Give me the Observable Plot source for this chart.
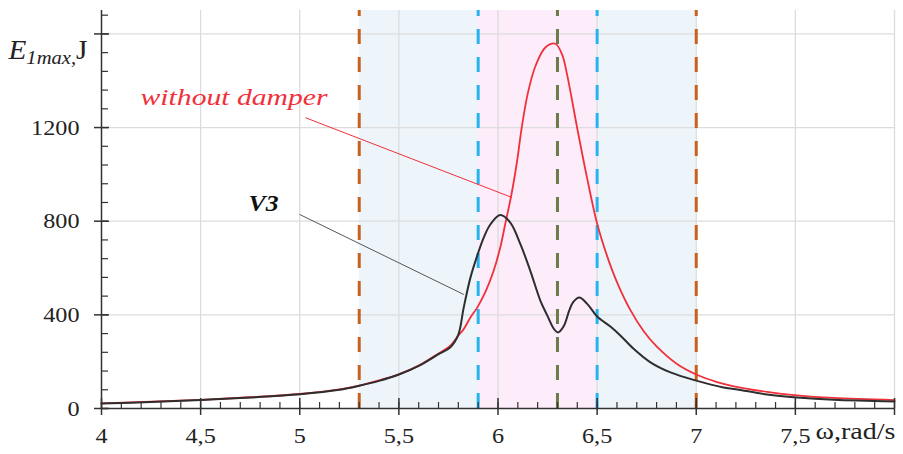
<!DOCTYPE html>
<html><head><meta charset="utf-8">
<script src="https://cdn.jsdelivr.net/npm/d3@7"></script>
<script src="https://cdn.jsdelivr.net/npm/@observablehq/plot@0.6"></script>
<style>html,body{margin:0;padding:0;background:#fff;overflow:hidden}
svg text{font-family:"Liberation Serif","Times New Roman",serif !important;}</style>
</head><body><div id="chart"></div>
<script>
// ---- data ----
const omegaV3 = [4.0, 4.25, 4.5, 4.75, 5.0, 5.2, 5.3, 5.4, 5.5, 5.6, 5.7, 5.76, 5.8, 5.827, 5.861, 5.895, 5.928, 5.962, 6.012, 6.062, 6.113, 6.163, 6.214, 6.247, 6.282, 6.303, 6.332, 6.36, 6.38, 6.41, 6.45, 6.5, 6.567, 6.617, 6.684, 6.769, 6.87, 7.0, 7.138, 7.222, 7.357, 7.508, 7.693, 8.0];
const energyV3 = [21, 28, 36, 47, 61, 80, 97, 118, 145, 182, 232, 262, 316, 431, 559, 652, 730, 787, 826, 794, 702, 588, 460, 400, 340, 325, 352, 420, 455, 474, 447, 393, 350, 312, 255, 197, 154, 119, 90, 79, 60, 47, 37, 30];

const omegaFree = [4.0, 4.25, 4.5, 4.75, 5.0, 5.2, 5.3, 5.4, 5.5, 5.6, 5.7, 5.76, 5.8, 5.827, 5.861, 5.895, 5.94, 5.978, 6.012, 6.037, 6.068, 6.096, 6.118, 6.15, 6.19, 6.24, 6.289, 6.323, 6.348, 6.399, 6.449, 6.5, 6.55, 6.6, 6.668, 6.735, 6.8, 6.903, 7.0, 7.105, 7.19, 7.357, 7.508, 7.693, 8.0];
const energyFree = [22, 29, 37, 48, 62, 82, 98, 120, 146, 183, 235, 268, 312, 339, 389, 431, 505, 588, 690, 790, 915, 1055, 1190, 1345, 1465, 1543, 1558, 1513, 1428, 1200, 986, 790, 652, 540, 420, 330, 265, 190, 145, 113, 95, 71, 56, 45, 36];

const xTickValues = [4, 4.5, 5, 5.5, 6, 6.5, 7, 7.5, 8];
const xTickLabels = ["4", "4,5", "5", "5,5", "6", "6,5", "7", "7,5", ""];
const yTickValues = [0, 400, 800, 1200, 1600];
const yTickLabels = ["0", "400", "800", "1200", ""];

const outerBand = [5.3, 7.0];
const innerBand = [5.9, 6.5];
const outerLines = [5.3, 7.0];
const innerLines = [5.9, 6.5];
const centerLines = [6.3];

const seriesV3 = omegaV3.map((x, i) => ({x, y: energyV3[i]}));
const seriesFree = omegaFree.map((x, i) => ({x, y: energyFree[i]}));

const xMinor = d3.range(40, 81).map(v => v / 10);
const yMinor = d3.range(0, 22).map(v => v * 80);

const pxX = 198.25, pxY = 398 / 1700;
const axisColor = "#333";
const gridColor = "#dcdcdc";
const redColor = "#f0303a";
const serif = "'Liberation Serif', 'Times New Roman', serif";

const plot = Plot.plot({
  width: 903, height: 454,
  marginLeft: 101, marginRight: 9, marginTop: 10, marginBottom: 46,
  x: {domain: [4, 8], axis: null},
  y: {domain: [0, 1700], axis: null},
  style: {fontFamily: serif, background: "#fff", color: "#222"},
  marks: [
    Plot.rect([outerBand], {x1: d => d[0], x2: d => d[1], y1: () => 0, y2: () => 1700, fill: "#eef5fa"}),
    Plot.rect([innerBand], {x1: d => d[0], x2: d => d[1], y1: () => 0, y2: () => 1700, fill: "#fdecfa"}),
    Plot.ruleX(xTickValues.slice(1), {stroke: gridColor, strokeWidth: 1.3}),
    Plot.ruleY(yTickValues.slice(1), {stroke: gridColor, strokeWidth: 1.3}),
    Plot.ruleX(outerLines, {y1: () => 0, y2: () => 1700, stroke: "#c5621f", strokeWidth: 3, strokeDasharray: "15,13"}),
    Plot.ruleX(innerLines, {y1: () => 0, y2: () => 1700, stroke: "#27b3ee", strokeWidth: 3, strokeDasharray: "15,13"}),
    Plot.ruleX(centerLines, {y1: () => 0, y2: () => 1700, stroke: "#6b7c47", strokeWidth: 3, strokeDasharray: "15,13"}),
    Plot.link([{x1: 5.029, y1: 1242, x2: 6.068, y2: 902}], {x1: "x1", y1: "y1", x2: "x2", y2: "y2", stroke: redColor, strokeWidth: 1}),
    Plot.link([{x1: 4.999, y1: 829, x2: 5.8275, y2: 487}], {x1: "x1", y1: "y1", x2: "x2", y2: "y2", stroke: "#555", strokeWidth: 1}),
    Plot.line(seriesFree, {x: "x", y: "y", stroke: redColor, strokeWidth: 1.8, curve: "catmull-rom"}),
    Plot.line(seriesV3, {x: "x", y: "y", stroke: "#2e2e2e", strokeWidth: 2, curve: "catmull-rom"}),
    Plot.text(["without damper"], {x: () => 4.197, y: () => 1326, text: d => d, textAnchor: "start", fill: redColor, fontSize: 23, fontStyle: "italic", fontFamily: serif}),
    Plot.text(["V3"], {x: () => 4.742, y: () => 877, text: d => d, textAnchor: "start", fill: "#111", fontSize: 23, fontStyle: "italic", fontWeight: "bold", fontFamily: serif}),
    // axes
    Plot.ruleY([0], {stroke: axisColor, strokeWidth: 1.5}),
    Plot.ruleX([4], {stroke: axisColor, strokeWidth: 1.5}),
    Plot.ruleX(xTickValues, {y1: () => -7 / pxY, y2: () => 10 / pxY, stroke: axisColor, strokeWidth: 1.5}),
    Plot.ruleX(xMinor, {y1: () => 0, y2: () => 6 / pxY, stroke: axisColor, strokeWidth: 1.2}),
    Plot.ruleY(yTickValues, {x1: () => 4 - 7 / pxX, x2: () => 4 + 8 / pxX, stroke: axisColor, strokeWidth: 1.5}),
    Plot.ruleY(yMinor, {x1: () => 4, x2: () => 4 + 7 / pxX, stroke: axisColor, strokeWidth: 1.2}),
    Plot.text(xTickValues, {x: d => d, y: () => 0, text: (d, i) => xTickLabels[i], dy: 27, fontSize: 22, fill: "#222", fontFamily: serif}),
    Plot.text(yTickValues, {x: () => 4, y: d => d, text: (d, i) => yTickLabels[i], dx: -22, textAnchor: "end", fontSize: 22, fill: "#222", fontFamily: serif}),
    Plot.text(["ω,rad/s"], {frameAnchor: "bottom-right", text: d => d, textAnchor: "end", dx: 1, dy: 30.6, fontSize: 23, fill: "#222", fontFamily: serif}),
    Plot.text(["E1max,J"], {frameAnchor: "top-left", text: d => d, textAnchor: "start", dx: -93, dy: 29.4, fontSize: 27, fill: "#222", fontFamily: serif})
  ]
});

document.getElementById("chart").append(plot);

const fixed = {"without damper": 187, "V3": 30, "ω,rad/s": 80};
d3.select(plot).selectAll("text").each(function() {
  const t = this.textContent;
  if (!t) return;
  this.setAttribute("font-family", serif);
  if (t === "E1max,J") {
    const sel = d3.select(this);
    sel.text("");
    sel.append("tspan").attr("font-style", "italic").text("E");
    sel.append("tspan").attr("font-style", "italic").attr("font-size", 19).attr("dy", 5).text("1max,");
    sel.append("tspan").attr("dy", -5).text("J");
    sel.attr("textLength", 79).attr("lengthAdjust", "spacingAndGlyphs");
    return;
  }
  let len = fixed[t];
  if (len === undefined) len = this.getComputedTextLength() * 1.1;
  this.setAttribute("textLength", len);
  this.setAttribute("lengthAdjust", "spacingAndGlyphs");
});
</script>
</body></html>
